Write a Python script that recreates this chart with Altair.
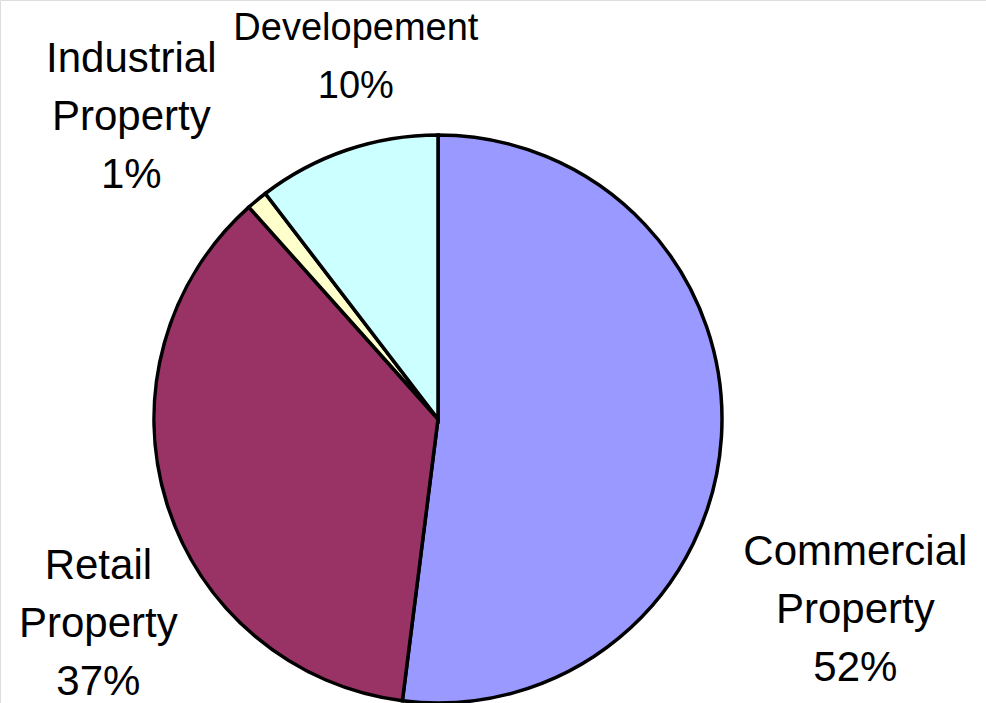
import altair as alt
import pandas as pd

categories = ["Commercial Property", "Retail Property", "Industrial Property", "Developement"]
values = [52.0, 36.4, 1.2, 10.4]
labels = ["Commercial\nProperty\n52%", "Retail\nProperty\n37%", "Industrial\nProperty\n1%", "Developement\n10%"]
colors = ["#9999FF", "#993366", "#FFFFCC", "#CCFFFF"]

df = pd.DataFrame({
    "category": categories,
    "value": values,
    "label": labels,
    "idx": list(range(len(categories))),
})

CX, CY = 438, 419

base = alt.Chart(df).encode(
    theta=alt.Theta("value:Q", stack=True),
    order=alt.Order("idx:Q"),
    x=alt.value(CX),
    y=alt.value(CY),
)

pie = base.mark_arc(outerRadius=284, stroke="black", strokeWidth=3.5, strokeJoin="miter").encode(
    color=alt.Color("category:N", scale=alt.Scale(domain=categories, range=colors), legend=None)
)

# per-label offsets (label placement tweaks)
offsets = {
    "Commercial Property": (78, 112, 42),
    "Retail Property": (-15, 46, 42),
    "Industrial Property": (-90, -98, 42),
    "Developement": (27, -68, 38),
}

layers = [pie]
for cat in categories:
    dx, dy, fs = offsets[cat]
    t = base.mark_text(
        radius=340, dx=dx, dy=dy, fontSize=fs, font="Liberation Sans",
        lineBreak="\n", lineHeight=58, align="center", baseline="middle", color="black",
    ).encode(
        text=alt.condition(alt.datum.category == cat, "label:N", alt.value(""))
    )
    layers.append(t)

chart = alt.layer(*layers).properties(
    width=986, height=703, autosize=alt.AutoSizeParams(type="none"), padding=0
).configure_view(stroke=None).configure(background="white")

chart.save("out.html", embed_options={"renderer": "svg", "actions": False})
